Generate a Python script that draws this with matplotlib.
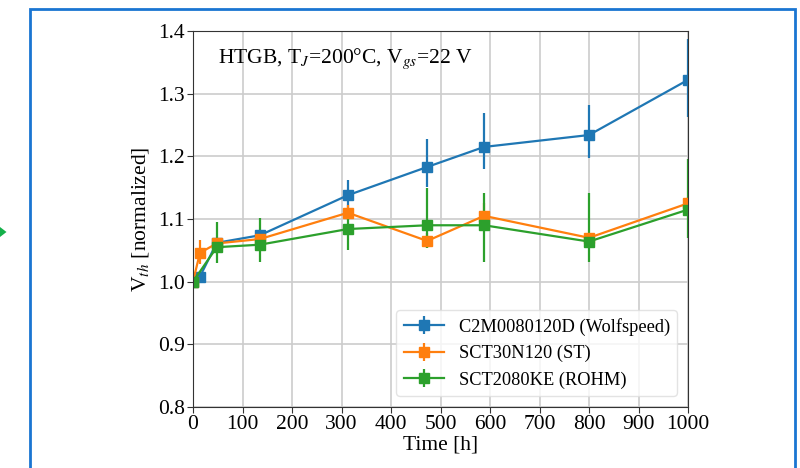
import matplotlib
matplotlib.use("Agg")
import matplotlib.pyplot as plt
from matplotlib.patches import Rectangle, Polygon
import numpy as np

plt.rcParams['font.family'] = ['Liberation Serif', 'DejaVu Serif']
plt.rcParams['mathtext.fontset'] = 'stix'

# Data
wolf_t = [0, 14, 48, 135, 313, 473, 588, 800, 1000]
wolf_v = [1.000, 1.008, 1.062, 1.074, 1.138, 1.183, 1.215, 1.234, 1.322]
wolf_lo = [0.0, 0.008, 0.005, 0.006, 0.024, 0.032, 0.035, 0.037, 0.060]
wolf_hi = [0.0, 0.008, 0.005, 0.006, 0.024, 0.045, 0.054, 0.048, 0.065]

st_t = [0, 14, 48, 135, 313, 473, 588, 800, 1000]
st_v = [1.000, 1.046, 1.061, 1.068, 1.110, 1.065, 1.105, 1.070, 1.125]
st_lo = [0.0, 0.018, 0.006, 0.008, 0.012, 0.012, 0.018, 0.006, 0.010]
st_hi = [0.0, 0.020, 0.006, 0.008, 0.012, 0.012, 0.020, 0.006, 0.010]

rohm_t = [0, 48, 135, 313, 473, 588, 800, 1000]
rohm_v = [1.000, 1.055, 1.059, 1.084, 1.090, 1.090, 1.064, 1.115]
rohm_lo = [0.0, 0.025, 0.027, 0.033, 0.036, 0.058, 0.032, 0.045]
rohm_hi = [0.0, 0.041, 0.043, 0.033, 0.059, 0.051, 0.078, 0.080]

labels = ["C2M0080120D (Wolfspeed)", "SCT30N120 (ST)", "SCT2080KE (ROHM)"]
colors = ["#1f77b4", "#ff7f0e", "#2ca02c"]

fig = plt.figure(figsize=(8, 4.68), dpi=100)
ax = fig.add_axes([193/800, 1-407/468, (688-193)/800, (407-31)/468])

series = [(wolf_t, wolf_v, wolf_lo, wolf_hi),
          (st_t, st_v, st_lo, st_hi),
          (rohm_t, rohm_v, rohm_lo, rohm_hi)]
for (t, v, lo, hi), lab, c in zip(series, labels, colors):
    ax.errorbar(t, v, yerr=[lo, hi], fmt='-s', color=c, ms=7.5, lw=1.6,
                elinewidth=1.6, capsize=0, label=lab)

ax.set_xlim(0, 1000)
ax.set_ylim(0.8, 1.4)
ax.set_xticks(np.arange(0, 1001, 100))
ax.set_yticks(np.arange(0.8, 1.41, 0.1))
ax.set_yticklabels(["0.8", "0.9", "1.0", "1.1", "1.2", "1.3", "1.4"])
ax.grid(True, color='#cccccc', lw=1.2)
ax.set_axisbelow(True)
ax.tick_params(labelsize=15.5, length=4, color='#333333', pad=2)
for s in ax.spines.values():
    s.set_color('#333333')
ax.set_xlabel("Time [h]", fontsize=15.5, labelpad=1)
ax.set_ylabel("V$_{th}$ [normalized]", fontsize=15.5, labelpad=5)
ax.text(0.05, 0.96, "HTGB, T$_J$=200°C, V$_{gs}$=22 V", transform=ax.transAxes,
        fontsize=15.5, va='top', ha='left')
ax.legend(loc='lower right', fontsize=13.2, framealpha=0.8, edgecolor='#dddddd',
          borderaxespad=0.6, handlelength=2.2)

# Surrounding document frame and arrow
fig.patches.append(Rectangle((29.5/800, -0.1), (795-29.5)/800, 1.1 - 9/468,
                             transform=fig.transFigure, fill=False,
                             edgecolor='#1a75d2', lw=2))
fig.patches.append(Polygon([[0, 231/468], [6.5/800, 236/468], [0, 241/468]],
                           closed=True, transform=fig.transFigure,
                           facecolor='#14b04a', edgecolor='none'))

fig.savefig("out.png", dpi=100)
